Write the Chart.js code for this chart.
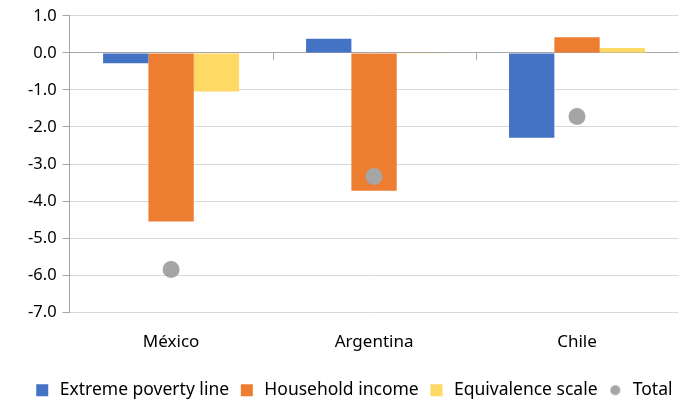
<!DOCTYPE html>
<html>
<head>
<meta charset="utf-8">
<script src="https://cdn.jsdelivr.net/npm/chart.js@4/dist/chart.umd.min.js"></script>
<style>
    html, body { margin: 0; padding: 0; background: #fff; }
    #wrap { width: 687px; height: 401px; }
</style>
</head>
<body>
<div id="wrap"><canvas id="chart"></canvas></div>
<script>
const countries = ["México", "Argentina", "Chile"];
const extremePovertyLine = [-0.28, 0.38, -2.29];
const householdIncome = [-4.55, -3.72, 0.42];
const equivalenceScale = [-1.04, -0.02, 0.13];
const total = [-5.85, -3.34, -1.72];
const yMin = -7;
const yMax = 1;

// smaller dot for the "Total" legend entry
const legendDot = document.createElement("canvas");
legendDot.width = 12;
legendDot.height = 12;
const dotCtx = legendDot.getContext("2d");
dotCtx.fillStyle = "#a5a5a5";
dotCtx.beginPath();
dotCtx.arc(6, 6, 5, 0, Math.PI * 2);
dotCtx.fill();

// small tick marks on the zero line between categories, like the Excel axis
const zeroAxisTicks = {
    id: "zeroAxisTicks",
    afterDatasetsDraw(chart) {
        const x = chart.scales.x;
        const y = chart.scales.y;
        const y0 = y.getPixelForValue(0);
        const ctx = chart.ctx;
        ctx.save();
        ctx.strokeStyle = "#a6a6a6";
        ctx.lineWidth = 1;
        for (let i = 1; i < countries.length; i++) {
            const px = Math.round((x.getPixelForValue(i - 1) + x.getPixelForValue(i)) / 2) + 0.5;
            ctx.beginPath();
            ctx.moveTo(px, y0);
            ctx.lineTo(px, y0 + 7);
            ctx.stroke();
        }
        ctx.restore();
    },
};

const ctx = document.getElementById("chart").getContext("2d");
new Chart(ctx, {
    type: "bar",
    data: {
        labels: countries,
        datasets: [
            {
                label: "Extreme poverty line",
                data: extremePovertyLine,
                backgroundColor: "#4472c4",
                pointStyle: "rect",
                order: 2,
            },
            {
                label: "Household income",
                data: householdIncome,
                backgroundColor: "#ed7d31",
                pointStyle: "rect",
                order: 2,
            },
            {
                label: "Equivalence scale",
                data: equivalenceScale,
                backgroundColor: "#ffd966",
                pointStyle: "rect",
                order: 2,
            },
            {
                type: "line",
                label: "Total",
                data: total,
                showLine: false,
                pointStyle: "circle",
                pointRadius: 8.5,
                pointHoverRadius: 8.5,
                backgroundColor: "#a5a5a5",
                borderColor: "#a5a5a5",
                borderWidth: 0,
                order: 1,
            },
        ],
    },
    options: {
        responsive: true,
        maintainAspectRatio: false,
        animation: false,
        datasets: {
            bar: {
                categoryPercentage: 0.67,
                barPercentage: 1.0,
            },
        },
        layout: {
            padding: { top: 10, right: 3, left: 22, bottom: -8 },
        },
        plugins: {
            legend: {
                position: "bottom",
                labels: {
                    usePointStyle: true,
                    boxHeight: 12,
                    padding: 9,
                    color: "#000",
                    font: { family: "Noto Sans", size: 17.5 },
                    sort: (a, b) => a.datasetIndex - b.datasetIndex,
                    generateLabels: (chart) => {
                        const items = Chart.defaults.plugins.legend.labels.generateLabels(chart);
                        items.forEach((item) => {
                            if (item.pointStyle === "circle") {
                                item.pointStyle = legendDot;
                            }
                        });
                        return items;
                    },
                },
            },
            tooltip: { enabled: false },
        },
        scales: {
            x: {
                grid: { display: false, drawTicks: false },
                border: { display: false },
                ticks: {
                    color: "#000",
                    padding: 20,
                    font: { family: "Noto Sans", size: 17 },
                },
            },
            y: {
                min: yMin,
                max: yMax,
                border: { display: true, color: "#a6a6a6" },
                grid: {
                    color: (c) => (c.tick && c.tick.value === 0 ? "#a6a6a6" : "#d9d9d9"),
                    tickColor: "#a6a6a6",
                    tickLength: 7,
                },
                ticks: {
                    stepSize: 1,
                    color: "#000",
                    padding: 6,
                    font: { family: "Noto Sans", size: 16.5 },
                    callback: (v) => v.toFixed(1),
                },
            },
        },
    },
    plugins: [zeroAxisTicks],
});
</script>
</body>
</html>
